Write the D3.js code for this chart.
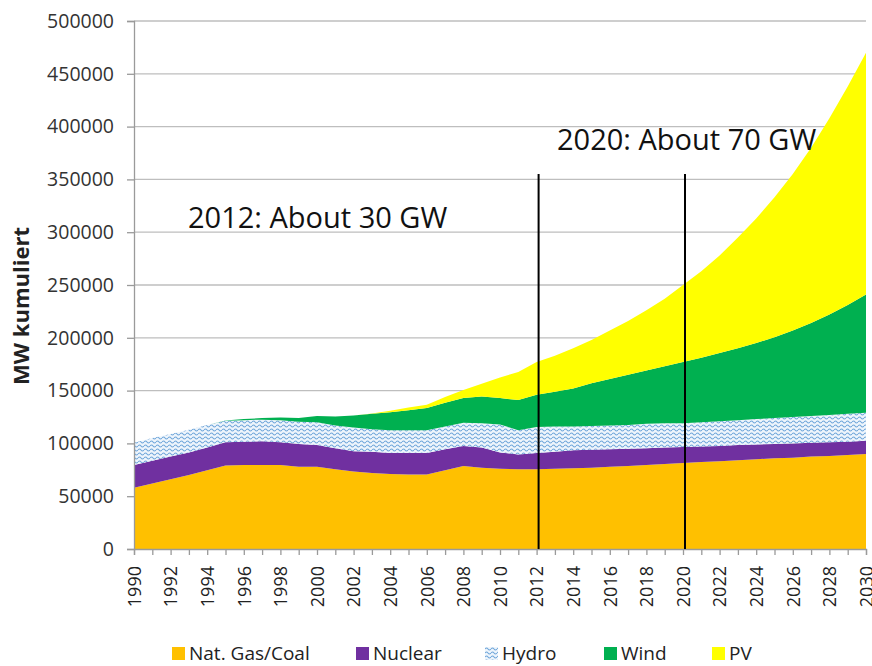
<!DOCTYPE html>
<html>
<head>
<meta charset="utf-8">
<script src="https://cdn.jsdelivr.net/npm/d3@7"></script>
<style>
  body { margin: 0; background: #fff; }
  text { font-family: "Open Sans", sans-serif; }
</style>
</head>
<body>
<svg id="chart" width="872" height="666"></svg>
<script>
// years 1990..2030
const years = d3.range(1990, 2031);

// installed capacity per source, MW
const gasCoal = [58000, 62000, 66000, 70000, 74500, 79000, 79500, 79500, 79500, 78000,
  78000, 75500, 73500, 72000, 71000, 70500, 70500, 74500, 78500, 77000,
  76000, 75500, 75500, 76000, 76500, 77000, 78000, 78500, 79500, 80500,
  81500, 82500, 83000, 84000, 85000, 86000, 86500, 87500, 88000, 89000, 90000];
const nuclear = [21500, 21500, 21500, 21500, 21500, 22000, 22000, 22500, 21500, 21500,
  20500, 20000, 19000, 20000, 20000, 20500, 20500, 20000, 19000, 19000,
  15500, 14000, 15500, 16000, 17000, 17000, 16500, 16500, 16000, 15500,
  15000, 14500, 14500, 14500, 14000, 13500, 13500, 13000, 13000, 12500, 12500];
const hydro = [21000, 21500, 21500, 21500, 21500, 20500, 20500, 20500, 21000, 21000,
  21500, 21500, 22500, 21500, 21500, 21500, 21500, 21500, 22000, 23000,
  26500, 23000, 24500, 24000, 22500, 22500, 22500, 22500, 23000, 23000,
  22500, 23000, 23500, 23500, 24000, 24500, 25000, 25500, 26000, 26500, 26500];
const wind = [0, 0, 0, 0, 0, 300, 1000, 1500, 2500, 3500,
  6000, 8500, 11500, 14500, 17000, 19000, 21000, 22500, 23500, 25500,
  25000, 28500, 30500, 33000, 36000, 40500, 44000, 47500, 50500, 54000,
  58000, 61000, 64500, 68000, 72000, 76500, 82000, 88000, 95000, 103000, 112000];
const pv = [0, 0, 0, 0, 0, 0, 0, 0, 0, 0,
  0, 0, 0, 300, 1500, 2500, 3000, 5500, 7500, 12000,
  19500, 26500, 31000, 34000, 38000, 41000, 46000, 51000, 57000, 64000,
  73000, 82000, 92500, 105000, 118000, 132500, 148000, 166000, 186000, 207000, 229000];

const seriesNames = ["Nat. Gas/Coal", "Nuclear", "Hydro", "Wind", "PV"];
const seriesValues = [gasCoal, nuclear, hydro, wind, pv];
const seriesColors = ["#FFC000", "#7030A0", "url(#hydroPattern)", "#00B050", "#FFFF00"];

const yTicks = d3.range(0, 500001, 50000);
const xTickYears = d3.range(1990, 2031, 2);

const markers = [
  { year: 2012, label: "2012: About 30 GW", lx: 188, ly: 228 },
  { year: 2020, label: "2020: About 70 GW", lx: 557, ly: 150 }
];

const svg = d3.select("#chart");
const plotLeft = 134, plotRight = 866, plotTop = 21, plotBottom = 549;

const x = d3.scaleLinear().domain([1990, 2030]).range([plotLeft, plotRight]);
const y = d3.scaleLinear().domain([0, 500000]).range([plotBottom, plotTop]);

// hydro wave pattern
const defs = svg.append("defs");
const pat = defs.append("pattern")
  .attr("id", "hydroPattern")
  .attr("patternUnits", "userSpaceOnUse")
  .attr("width", 6).attr("height", 4);
pat.append("rect").attr("width", 6).attr("height", 4).attr("fill", "#eef5fc");
pat.append("path")
  .attr("d", "M0,2 Q1.5,0 3,2 T6,2")
  .attr("fill", "none")
  .attr("stroke", "#6FA6DA")
  .attr("stroke-width", 1.1);

// table for the stack
const table = years.map((yr, i) => {
  const row = { year: yr };
  seriesNames.forEach((n, k) => { row[n] = seriesValues[k][i]; });
  return row;
});
const stacked = d3.stack().keys(seriesNames)(table);

// gridlines
svg.append("g")
  .selectAll("line")
  .data(yTicks.filter(d => d > 0))
  .enter()
  .append("line")
  .attr("x1", plotLeft).attr("x2", plotRight)
  .attr("y1", d => y(d)).attr("y2", d => y(d))
  .attr("stroke", "#BEBEBE")
  .attr("stroke-width", 1.3);

const area = d3.area()
  .x(d => x(d.data.year))
  .y0(d => y(d[0]))
  .y1(d => y(d[1]));

svg.append("g")
  .selectAll("path")
  .data(stacked)
  .enter()
  .append("path")
  .attr("d", area)
  .attr("fill", (d, i) => seriesColors[i]);

// y axis
const yAxis = d3.axisLeft(y).tickValues(yTicks).tickSize(7).tickPadding(13).tickFormat(d3.format("d"));
const gy = svg.append("g").attr("transform", `translate(${plotLeft},0)`).call(yAxis);
gy.select(".domain").attr("stroke", "#9a9a9a").attr("stroke-width", 1.3);
gy.selectAll(".tick line").attr("stroke", "#9a9a9a").attr("stroke-width", 1.3);
gy.selectAll(".tick text")
  .attr("fill", "#333")
  .style("font-size", "19.5px")
  .style("font-family", "'Open Sans', sans-serif");

// x axis
const xAxis = d3.axisBottom(x).tickValues(years).tickSize(6).tickFormat(d => xTickYears.includes(d) ? d : "");
const gx = svg.append("g").attr("transform", `translate(0,${plotBottom})`).call(xAxis);
gx.select(".domain").attr("stroke", "#9a9a9a").attr("stroke-width", 1.3);
gx.selectAll(".tick line").attr("stroke", "#9a9a9a").attr("stroke-width", 1.3);
gx.selectAll(".tick text")
  .attr("fill", "#222")
  .style("font-size", "18px")
  .style("font-family", "'Open Sans', sans-serif")
  .attr("transform", "rotate(-90)")
  .attr("text-anchor", "end")
  .attr("x", -17)
  .attr("y", 0)
  .attr("dy", "0.35em");

// y title
svg.append("text")
  .attr("transform", "translate(29,306) rotate(-90)")
  .attr("text-anchor", "middle")
  .attr("fill", "#222")
  .style("font-size", "22px")
  .style("font-weight", "bold")
  .text("MW kumuliert");

// marker lines + labels
svg.append("g")
  .selectAll("line")
  .data(markers)
  .enter()
  .append("line")
  .attr("x1", d => x(d.year) + 2).attr("x2", d => x(d.year) + 2)
  .attr("y1", y(355000)).attr("y2", plotBottom)
  .attr("stroke", "#000")
  .attr("stroke-width", 2);

svg.append("g")
  .selectAll("text")
  .data(markers)
  .enter()
  .append("text")
  .attr("x", d => d.lx)
  .attr("y", d => d.ly)
  .attr("fill", "#111")
  .style("font-size", "29px")
  .text(d => d.label);

// legend
const legendX = [172, 356, 485, 604, 712];
const lg = svg.append("g")
  .selectAll("g")
  .data(seriesNames)
  .enter()
  .append("g")
  .attr("transform", (d, i) => `translate(${legendX[i]},647)`);
lg.append("rect")
  .attr("width", 13).attr("height", 13)
  .attr("fill", (d, i) => i === 2 ? "url(#hydroPattern)" : seriesColors[i]);
lg.append("text")
  .attr("x", 17).attr("y", 13)
  .attr("fill", "#222")
  .style("font-size", "19px")
  .text(d => d);
</script>
</body>
</html>
